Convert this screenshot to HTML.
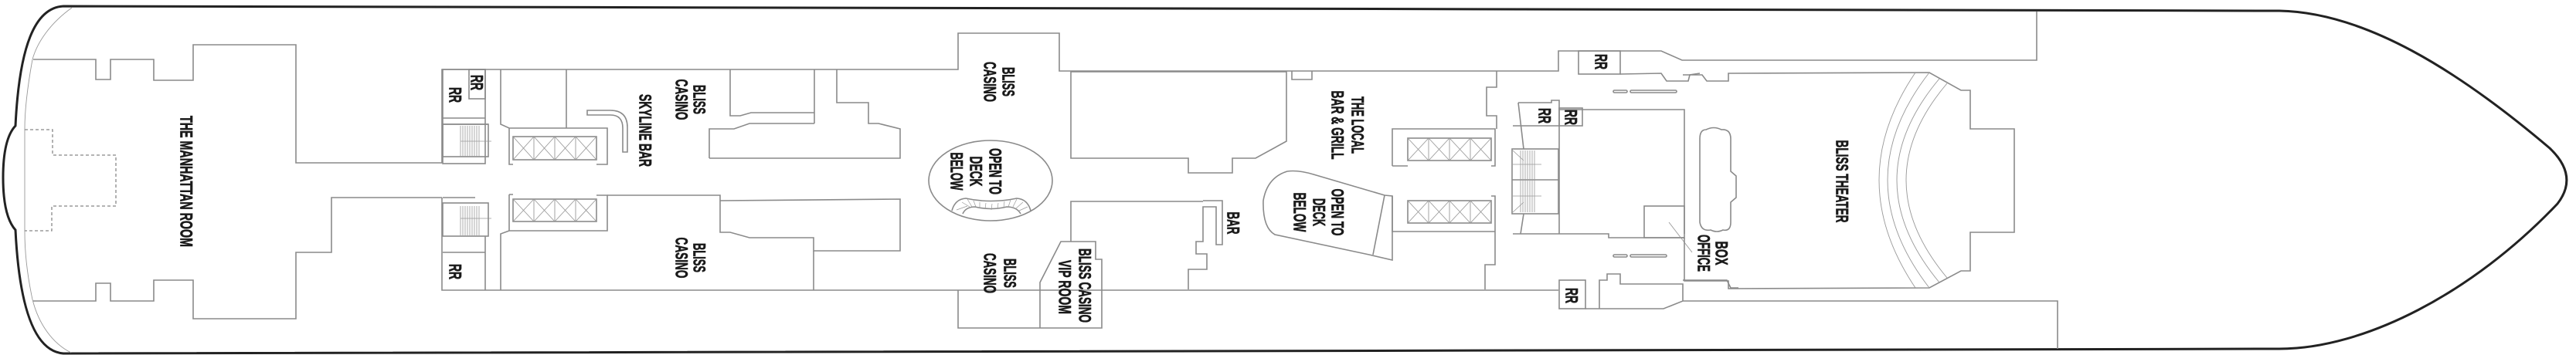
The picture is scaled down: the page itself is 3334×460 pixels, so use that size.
<!DOCTYPE html>
<html><head><meta charset="utf-8"><style>
html,body{margin:0;padding:0;background:#fff;}
svg{display:block;}
.w{fill:none;stroke:#8a8a8a;stroke-width:1.6;}
.t{fill:none;stroke:#999;stroke-width:0.9;}
.h{fill:none;stroke:#222;stroke-width:3;}
text{font-family:"Liberation Sans Narrow","Liberation Sans",sans-serif;font-weight:bold;font-size:22px;fill:#1a1a1a;stroke:#1a1a1a;stroke-width:0.7;}
</style></head><body>
<svg width="3334" height="460" viewBox="0 0 3334 460" xmlns="http://www.w3.org/2000/svg">
<rect width="3334" height="460" fill="#fff"/>
<!-- hull -->
<path class="h" d="M82,8 L2950,14 C3060,16 3180,90 3300,192 Q3338,228 3310,264 C3200,380 3060,452 2950,452 L82,458 C45,455 25,400 20,298 Q4,280 4,230 Q4,180 20,163 C25,60 45,10 82,8 Z"/>
<path class="t" d="M93,10 C65,30 48,55 42,77 C36,110 32,140 32,167 L32,300 C32,330 36,360 42,388 C50,420 68,445 92,457"/>
<!-- Manhattan room -->
<path class="w" d="M43,77 H124 V103 H143 V77 H199 V104 H250 V58 H383 V211 H572"/>
<path class="w" d="M572,256 H429 V327 H383 V413 H250 V363 H199 V390 H143 V367 H124 V390 H43"/>
<path fill="none" stroke="#888" stroke-width="1.3" stroke-dasharray="4,3" d="M32,168 H68 V201 H150 V267 H67 V299 H32"/>
<!-- left RR blocks -->
<path class="w" d="M572,211 V90 H1240 V43 H1371 V92 H2017 V66 H2150 L2177,78 H2636 V15"/>
<rect class="w" x="573" y="90" width="55" height="122"/>
<rect class="w" x="607" y="90" width="21" height="38"/>
<line class="w" x1="573" y1="153" x2="628" y2="153"/>
<line class="w" x1="573" y1="161" x2="632" y2="161"/>
<rect class="w" x="573" y="161" width="59" height="42"/>
<g stroke="#999" stroke-width="0.8">
<path d="M596,163 V203 M599,163 V203 M602,163 V203 M605,163 V203 M608,163 V203 M611,163 V203 M614,163 V203 M617,163 V203 M620,163 V203"/>
<path d="M596,183 H636 M596,283 H636"/>
<path d="M596,267 V305 M599,267 V305 M602,267 V305 M605,267 V305 M608,267 V305 M611,267 V305 M614,267 V305 M617,267 V305 M620,267 V305"/>
</g>
<path class="w" d="M572,256 V376 H2017"/>
<rect class="w" x="573" y="263" width="59" height="43"/>
<line class="w" x1="573" y1="256" x2="615" y2="256"/>
<line class="w" x1="573" y1="327" x2="628" y2="327"/>
<line class="w" x1="628" y1="306" x2="628" y2="376"/>
<!-- elevators left -->
<path class="w" d="M648,90 V161 L659,166 H786 V213 H772 M659,166 V213 H664"/>
<line class="w" x1="733" y1="90" x2="733" y2="166"/>
<rect class="w" x="664" y="177" width="108" height="30"/>
<g class="t" stroke="#888"><path d="M664,177 L691,207 M691,177 L664,207 M691,177 L718,207 M718,177 L691,207 M718,177 L745,207 M745,177 L718,207 M745,177 L772,207 M772,177 L745,207 M691,177 V207 M718,177 V207 M745,177 V207"/></g>
<path class="w" d="M659,252 V299 H786 V253 H772 M664,252 H659 M648,376 V303 L659,299"/>
<rect class="w" x="664" y="258" width="108" height="29"/>
<g class="t" stroke="#888"><path d="M664,258 L691,287 M691,258 L664,287 M691,258 L718,287 M718,258 L691,287 M718,258 L745,287 M745,258 L718,287 M745,258 L772,287 M772,258 L745,287 M691,258 V287 M718,258 V287 M745,258 V287"/></g>
<path class="w" d="M786,253 H932 V301 H945 L970,308 H1053 V325 H1165 V258 L932,260"/>
<line class="w" x1="1053" y1="325" x2="1053" y2="376"/>
<!-- skyline bar -->
<path class="w" d="M760,143 H790 Q812,143 812,165 V197 H806 V166 Q806,149 790,149 H760 Z"/>
<!-- casino top shapes -->
<path class="w" d="M945,90 V150 H958 L972,146 H1054"/>
<line class="w" x1="1054" y1="90" x2="1054" y2="160"/>
<path class="w" d="M918,205 V167 H950 L970,160 H1054 M1083,90 V133 H1124 V160 H1137 L1165,167 V205 H918"/>
<!-- oval -->
<ellipse class="w" cx="1282" cy="234" rx="80" ry="52" stroke-width="1.2"/>
<path class="w" stroke-width="1.2" d="M1232,273 Q1236,258 1250,257 Q1282,264 1316,257 Q1330,258 1334,273 M1246,277 Q1250,268 1262,268 Q1282,273 1303,268 Q1316,268 1321,277"/>
<g stroke="#999" stroke-width="0.7"><path d="M1238,272 L1252,267 M1245,262 L1255,268 M1252,258 L1258,268 M1260,260 L1263,268 M1268,262 L1268,270 M1276,263 L1275,271 M1284,264 L1283,272 M1292,263 L1291,271 M1300,261 L1299,269 M1308,259 L1305,268 M1316,258 L1311,268 M1324,262 L1315,270 M1330,268 L1319,273"/></g>
<!-- big room center -->
<path class="w" d="M1386,93 H1665 V183 L1625,205 H1595 V224 H1538 V205 H1386 Z"/>
<path class="w" d="M1672,92 V103 H1698 V92"/>
<!-- lower center -->
<path class="w" d="M1386,313 V261 H1557 M1557,260 H1582 V317 H1574 V268 H1557 V313 H1548 V329 H1562 V349 H1538 V375"/>
<path class="w" d="M1240,376 V425 H1426 V375"/>
<path class="w" d="M1346,425 V366 L1373,313 H1418 V336 H1426 V375"/>
<!-- local bar right wall -->
<path class="w" d="M1937,92 V113 H1924 V150 H1937 V167"/>
<path class="w" d="M1802,215 V167 H1935 V215 H1930 M1802,215 H1822"/>
<rect class="w" x="1822" y="179" width="108" height="29"/>
<g class="t" stroke="#888"><path d="M1822,179 L1849,208 M1849,179 L1822,208 M1849,179 L1876,208 M1876,179 L1849,208 M1876,179 L1903,208 M1903,179 L1876,208 M1903,179 L1930,208 M1930,179 L1903,208 M1849,179 V208 M1876,179 V208 M1903,179 V208"/></g>
<path class="w" d="M1802,254 V300 H1935 V254 H1930 M1935,300 V343 H1922 V375"/>
<rect class="w" x="1822" y="260" width="108" height="29"/>
<g class="t" stroke="#888"><path d="M1822,260 L1849,289 M1849,260 L1822,289 M1849,260 L1876,289 M1876,260 L1849,289 M1876,260 L1903,289 M1903,260 L1876,289 M1903,260 L1930,289 M1930,260 L1903,289 M1849,260 V289 M1876,260 V289 M1903,260 V289"/></g>
<!-- open to deck shape 2 -->
<path class="w" stroke-width="1.2" d="M1792,253 L1700,226 Q1680,220 1666,222 Q1640,230 1635,260 Q1634,295 1650,304 L1772,330 L1802,337 V254 Z M1792,253 L1777,330"/>
<!-- stairs & RR right -->
<path class="w" d="M1965,133 H2008 V130 H2018 V303 M1965,133 L1972,193 M1958,163 H2018 M1972,277 L1968,303 M1958,303 H2018"/>
<rect class="w" x="2018" y="140" width="30" height="23"/>
<rect class="w" x="1957" y="193" width="60" height="84"/>
<line class="w" x1="1957" y1="233" x2="2017" y2="233"/>
<g stroke="#999" stroke-width="0.8"><path d="M1968,195 V275 M1971,195 V275 M1974,195 V275 M1977,195 V275 M1980,195 V275 M1983,195 V275 M1986,195 V275 M1958,213 H1995 M1958,254 H1995 M1958,195 L1972,208 M1958,275 L1972,262"/></g>
<path class="w" d="M2018,142 H2180 V303 M2018,303 H2082 V308 H2180"/>
<rect class="w" x="2128" y="267" width="52" height="41"/>
<line class="t" x1="2160" y1="288" x2="2190" y2="327" stroke="#666"/>
<rect class="w" x="2043" y="66" width="54" height="30"/>
<path class="w" d="M2097,96 L2150,95 L2157,105 H2185 L2187,97 L2200,95"/>
<g class="w" stroke-width="1.2"><rect x="2088" y="117" width="18" height="3" rx="1.5"/><rect x="2110" y="117" width="60" height="3" rx="1.5"/><rect x="2088" y="330" width="18" height="3" rx="1.5"/><rect x="2110" y="330" width="47" height="3" rx="1.5"/></g>
<rect class="w" x="2018" y="363" width="34" height="37"/>
<path class="w" d="M2052,400 H2153 L2178,390 H2663 V452 M2070,400 V363 H2080 V355 H2097 V368 H2178 V390 M2178,363 H2235 L2240,373 H2250"/>
<!-- theater -->
<path class="w" d="M2178,97 H2203 L2209,105 H2237 V95 L2497,94 L2538,117 H2550 V167 H2607 V301 H2550 V351 H2538 L2497,373 L2237,374 V364 H2180 V308"/>
<path class="t" d="M2479,94 Q2385,233 2479,373 M2497,94 Q2389,233 2497,373 M2510,102 Q2400,233 2510,366 M2520,108 Q2414,233 2520,360"/>
<path class="w" stroke-width="1.2" d="M2208,168 Q2200,168 2200,180 V288 Q2202,300 2214,298 Q2222,302 2230,298 Q2240,300 2240,288 V262 L2247,256 V228 L2240,222 V180 Q2240,167 2228,168 Q2218,163 2208,168 Z"/>
<!-- text -->
<g text-anchor="middle" dominant-baseline="central">
<text transform="translate(241,235) rotate(90)" textLength="170" lengthAdjust="spacingAndGlyphs">THE MANHATTAN ROOM</text>
<text transform="translate(617,107) rotate(90)" textLength="20" lengthAdjust="spacingAndGlyphs">RR</text>
<text transform="translate(589,123) rotate(90)" textLength="20" lengthAdjust="spacingAndGlyphs">RR</text>
<text transform="translate(589,352) rotate(90)" textLength="20" lengthAdjust="spacingAndGlyphs">RR</text>
<text transform="translate(905,129) rotate(90)" textLength="38" lengthAdjust="spacingAndGlyphs">BLISS</text>
<text transform="translate(882,129) rotate(90)" textLength="53" lengthAdjust="spacingAndGlyphs">CASINO</text>
<text transform="translate(835,169) rotate(90)" textLength="94" lengthAdjust="spacingAndGlyphs">SKYLINE BAR</text>
<text transform="translate(905,334) rotate(90)" textLength="38" lengthAdjust="spacingAndGlyphs">BLISS</text>
<text transform="translate(882,334) rotate(90)" textLength="53" lengthAdjust="spacingAndGlyphs">CASINO</text>
<text transform="translate(1305,106) rotate(90)" textLength="38" lengthAdjust="spacingAndGlyphs">BLISS</text>
<text transform="translate(1281,106) rotate(90)" textLength="52" lengthAdjust="spacingAndGlyphs">CASINO</text>
<text transform="translate(1288,222) rotate(90)" textLength="60" lengthAdjust="spacingAndGlyphs">OPEN TO</text>
<text transform="translate(1263,222) rotate(90)" textLength="39" lengthAdjust="spacingAndGlyphs">DECK</text>
<text transform="translate(1238,222) rotate(90)" textLength="49" lengthAdjust="spacingAndGlyphs">BELOW</text>
<text transform="translate(1307,354) rotate(90)" textLength="38" lengthAdjust="spacingAndGlyphs">BLISS</text>
<text transform="translate(1281,354) rotate(90)" textLength="52" lengthAdjust="spacingAndGlyphs">CASINO</text>
<text transform="translate(1404,370) rotate(90)" textLength="96" lengthAdjust="spacingAndGlyphs">BLISS CASINO</text>
<text transform="translate(1378,372) rotate(90)" textLength="70" lengthAdjust="spacingAndGlyphs">VIP ROOM</text>
<text transform="translate(1596,289) rotate(90)" textLength="29" lengthAdjust="spacingAndGlyphs">BAR</text>
<text transform="translate(1757,162) rotate(90)" textLength="74" lengthAdjust="spacingAndGlyphs">THE LOCAL</text>
<text transform="translate(1731,162) rotate(90)" textLength="89" lengthAdjust="spacingAndGlyphs">BAR &amp; GRILL</text>
<text transform="translate(1731,275) rotate(90)" textLength="61" lengthAdjust="spacingAndGlyphs">OPEN TO</text>
<text transform="translate(1707,275) rotate(90)" textLength="36" lengthAdjust="spacingAndGlyphs">DECK</text>
<text transform="translate(1682,275) rotate(90)" textLength="51" lengthAdjust="spacingAndGlyphs">BELOW</text>
<text transform="translate(1999,150) rotate(90)" textLength="20" lengthAdjust="spacingAndGlyphs">RR</text>
<text transform="translate(2033,152) rotate(90)" textLength="20" lengthAdjust="spacingAndGlyphs">RR</text>
<text transform="translate(2072,80) rotate(90)" textLength="20" lengthAdjust="spacingAndGlyphs">RR</text>
<text transform="translate(2034,383) rotate(90)" textLength="20" lengthAdjust="spacingAndGlyphs">RR</text>
<text transform="translate(2384,235) rotate(90)" textLength="107" lengthAdjust="spacingAndGlyphs">BLISS THEATER</text>
<text transform="translate(2228,328) rotate(90)" textLength="31" lengthAdjust="spacingAndGlyphs">BOX</text>
<text transform="translate(2205,328) rotate(90)" textLength="48" lengthAdjust="spacingAndGlyphs">OFFICE</text>
</g>
</svg>
</body></html>
